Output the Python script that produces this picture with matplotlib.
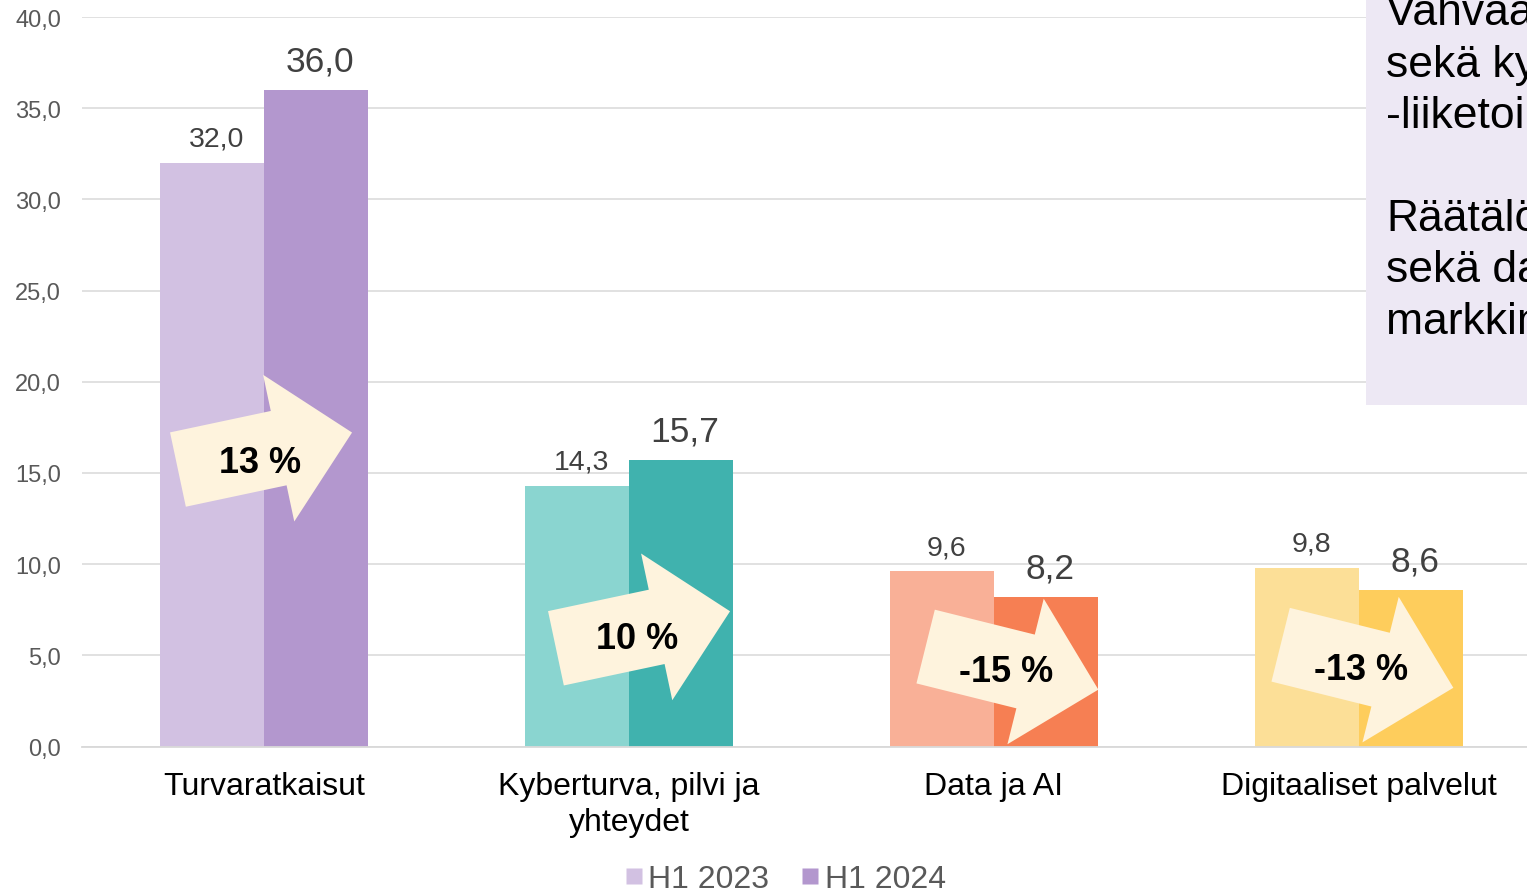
import numpy as np
import matplotlib
matplotlib.use("Agg")
import matplotlib.pyplot as plt
import matplotlib.transforms as mtransforms
from matplotlib.patches import Polygon, Rectangle
from matplotlib.lines import Line2D

plt.rcParams['font.family'] = ['Liberation Sans', 'DejaVu Sans']

# data
categories = ["Turvaratkaisut", "Kyberturva, pilvi ja\nyhteydet", "Data ja AI", "Digitaaliset palvelut"]
h1_2023 = [32.0, 14.3, 9.6, 9.8]
h1_2024 = [36.0, 15.7, 8.2, 8.6]
changes = ["13 %", "10 %", "-15 %", "-13 %"]
series_names = ["H1 2023", "H1 2024"]
yticks = [0, 5, 10, 15, 20, 25, 30, 35, 40]

light_colors = ["#D2C1E2", "#8AD5D0", "#F9B097", "#FCDF97"]
dark_colors = ["#B397CE", "#40B2AE", "#F67F53", "#FECD5C"]

# arrow placement (data y of arrow centre, x offset px, rotation deg)
arrow_y = [16.2, 6.4, 4.3, 4.4]
arrow_dx = [1, 14, 18, 8]
arrow_rot = [12, 12, -14, -14]
text_off = [(-5, -11), (-6, -9), (-6, -3), (-6, -3)]

side_lines = ["Vahvaa kasvua", "sekä kyberturva", "-liiketoiminnassa", "",
              "Räätälöidyt", "sekä data", "markkinat"]

fig = plt.figure(figsize=(15.27, 8.95), dpi=100)
ax = fig.add_axes([82 / 1527, 1 - 747.5 / 895, 1 - 82 / 1527, 729.5 / 895])

x = np.arange(len(categories))
w = 0.284
ax.bar(x - w / 2, h1_2023, w, color=light_colors, zorder=2)
ax.bar(x + w / 2, h1_2024, w, color=dark_colors, zorder=2)

for i in range(len(categories)):
    ax.annotate(f"{h1_2023[i]:.1f}".replace(".", ","), (x[i] - w / 2, h1_2023[i]),
                xytext=(3, 8), textcoords="offset points", ha="center", va="bottom",
                fontsize=20.5, color="#404040")
    ax.annotate(f"{h1_2024[i]:.1f}".replace(".", ","), (x[i] + w / 2, h1_2024[i]),
                xytext=(3, 9), textcoords="offset points", ha="center", va="bottom",
                fontsize=25.5, color="#404040")

# arrows (shape in pixels, centred on origin, pointing right)
shape = np.array([[-89, -38], [14, -38], [14, -75], [89, 0],
                  [14, 75], [14, 38], [-89, 38]])
for i in range(len(categories)):
    tr = (mtransforms.Affine2D().rotate_deg(arrow_rot[i]).translate(arrow_dx[i], 0)
          + mtransforms.ScaledTranslation(x[i], arrow_y[i], ax.transData))
    ax.add_patch(Polygon(shape, closed=True, facecolor="#FEF3DD", edgecolor="none",
                         transform=tr, zorder=3))
    ax.annotate(changes[i], (x[i], arrow_y[i]),
                xytext=((arrow_dx[i] + text_off[i][0]) * 0.72, text_off[i][1] * 0.72),
                textcoords="offset points", ha="center", va="center",
                fontsize=26, fontweight="bold", color="black", zorder=4)

ax.set_xlim(-0.4986, 3.4603)
ax.set_ylim(0, 40)
ax.set_yticks(yticks)
ax.set_yticklabels([f"{v:.1f}".replace(".", ",") for v in yticks])
ax.set_xticks(x)
ax.set_xticklabels(categories, linespacing=1.25)
ax.tick_params(axis="y", length=0, pad=15, labelsize=17, labelcolor="#595959")
ax.tick_params(axis="x", length=0, pad=18, labelsize=23, labelcolor="black")
ax.grid(axis="y", color="#D9D9D9", linewidth=1.1, zorder=0)
ax.set_axisbelow(True)
for s in ["top", "right", "left"]:
    ax.spines[s].set_visible(False)
ax.spines["bottom"].set_color("#D9D9D9")
ax.spines["bottom"].set_linewidth(1.3)

# legend
handles = [Line2D([], [], marker="s", linestyle="none", markersize=11,
                  markerfacecolor=c, markeredgecolor="none")
           for c in [light_colors[0], dark_colors[0]]]
fig.legend(handles, series_names, loc="center", bbox_to_anchor=(785 / 1527, 0.0165),
           ncol=2, frameon=False, fontsize=23, labelcolor="#595959",
           handlelength=0.6, handletextpad=0.15, columnspacing=1.0)

# side text box (cut by figure edge)
fig.patches.append(Rectangle((1366 / 1527, 1 - 406 / 895), 1, 406 / 895,
                             transform=fig.transFigure, facecolor="#EDE8F4",
                             edgecolor="none", zorder=5))
for k, line in enumerate(side_lines):
    fig.text(1386 / 1527, 1 - (25 + 51.5 * k) / 895, line, fontsize=32,
             va="baseline", ha="left", color="black", zorder=6)

fig.savefig("out.png", dpi=100)
